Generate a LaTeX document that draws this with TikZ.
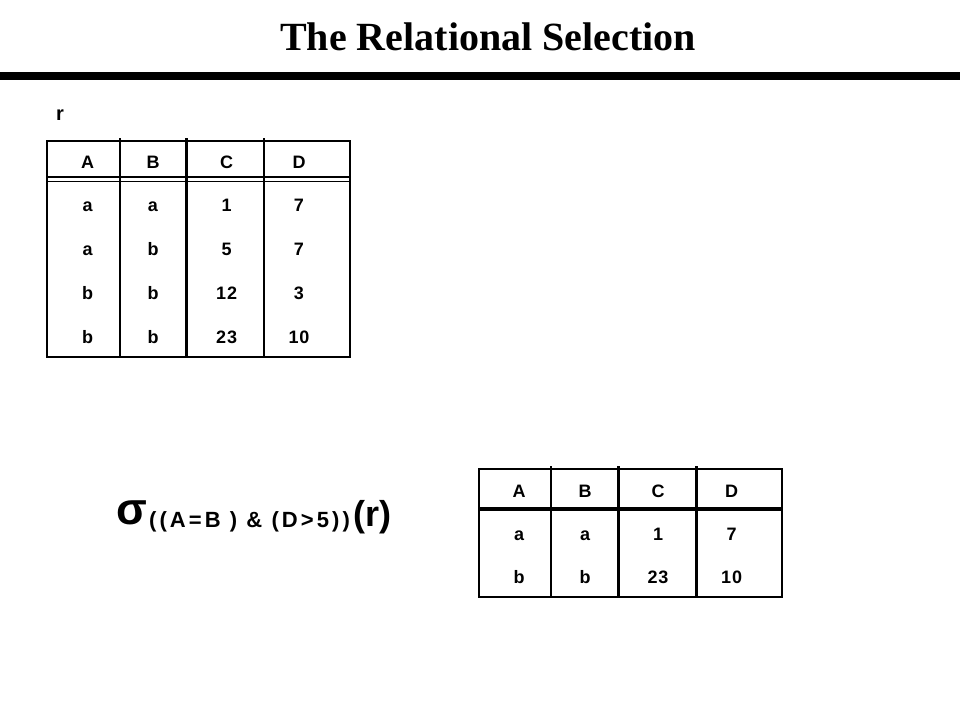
\documentclass[tikz,border=0pt]{standalone}
\usepackage{fontspec}
\setmainfont{Liberation Sans}
\newfontfamily\titlefont{Liberation Serif}
\begin{document}
\begin{tikzpicture}[x=1pt,y=-1pt,
  cell/.style={anchor=base, inner sep=0pt, font=\bfseries\fontsize{18}{20}\selectfont\addfontfeature{LetterSpace=5}},
  thinrule/.style={line width=1.5pt},
  thickrule/.style={line width=3pt}]
\useasboundingbox (0,0) rectangle (960,720);
% title
\node[anchor=base, inner sep=0pt, font=\titlefont\bfseries\fontsize{40}{44}\selectfont] (title) at (488,50) {The Relational Selection};
\draw[line width=8pt] (0,76) -- (960,76);
% relation name
\node[anchor=base west, inner sep=0pt, font=\bfseries\fontsize{20}{22}\selectfont] (rlabel) at (56,120) {r};
% table r
\draw[line width=1.7pt] (47,141) rectangle (350,357);
\draw[thinrule] (120,138) -- (120,357);
\draw[thickrule] (186,138) -- (186,357);
\draw[line width=2pt] (264,138) -- (264,357);
\draw[thinrule] (47,177) -- (350,177);
\draw[thinrule] (47,181.5) -- (350,181.5);
\foreach \col/\x in {A/87.7,B/153,C/226.7,D/299} {
  \node[cell] (h1\col) at (\x,168) {\col};
}
\foreach \a/\b/\c/\d/\y [count=\i] in {a/a/1/7/211, a/b/5/7/255, b/b/12/3/299, b/b/23/10/343} {
  \node[cell] (r1-\i-A) at (87.7,\y) {\a};
  \node[cell] (r1-\i-B) at (153,\y) {\b};
  \node[cell] (r1-\i-C) at (226.7,\y) {\c};
  \node[cell] (r1-\i-D) at (299,\y) {\d};
}
% selection expression
\node[anchor=base west, inner sep=0pt, font=\bfseries\fontsize{45}{50}\selectfont] (sigma) at (116,524) {σ};
\node[anchor=base west, inner sep=0pt, font=\bfseries\fontsize{22}{24}\selectfont\addfontfeature{LetterSpace=14}] (cond) at (149,527) {((A=B ) \& (D>5))};
\node[anchor=base west, inner sep=0pt, font=\bfseries\fontsize{36}{40}\selectfont] (rarg) at (353,526) {(r)};
% result table
\draw[line width=1.7pt] (479,469) rectangle (782,597);
\draw[thinrule] (551,466) -- (551,597);
\draw[thickrule] (618,466) -- (618,597);
\draw[thickrule] (696,466) -- (696,597);
\draw[line width=4pt] (479,508.5) -- (782,508.5);
\foreach \col/\x in {A/519,B/585,C/658,D/731.6} {
  \node[cell] (h2\col) at (\x,497) {\col};
}
\foreach \a/\b/\c/\d/\y [count=\i] in {a/a/1/7/540, b/b/23/10/583} {
  \node[cell] (r2-\i-A) at (519,\y) {\a};
  \node[cell] (r2-\i-B) at (585,\y) {\b};
  \node[cell] (r2-\i-C) at (658,\y) {\c};
  \node[cell] (r2-\i-D) at (731.6,\y) {\d};
}
\end{tikzpicture}
\end{document}
